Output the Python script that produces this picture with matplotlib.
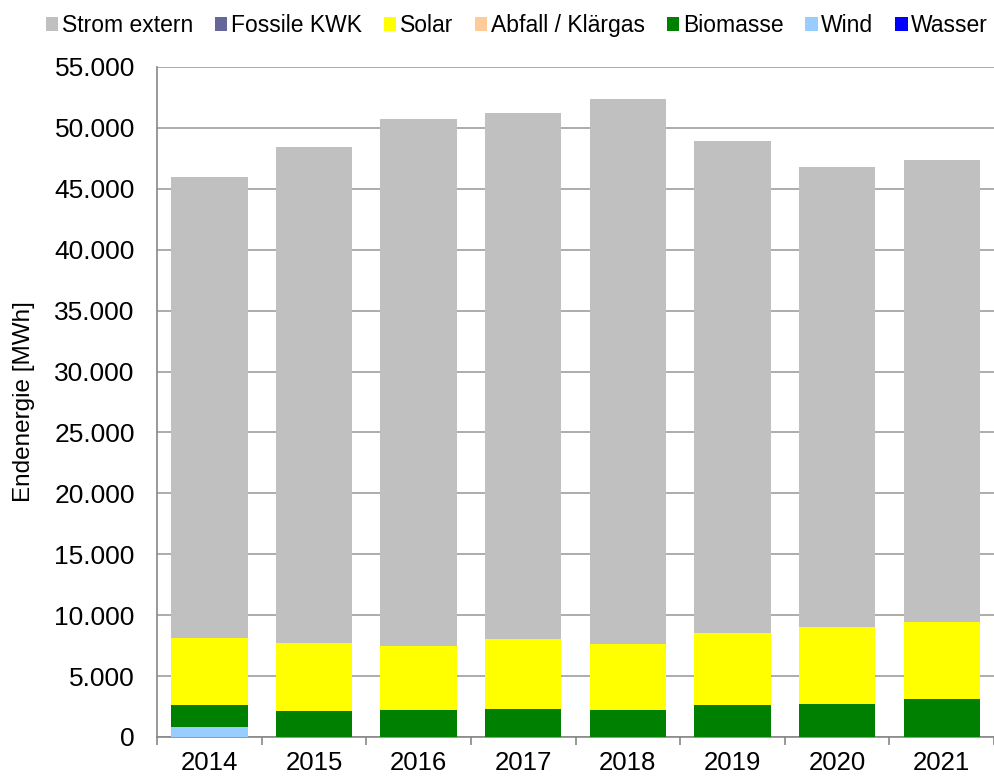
import matplotlib.pyplot as plt
from matplotlib.ticker import FuncFormatter, MultipleLocator
import numpy as np

plt.rcParams['font.family'] = ['Liberation Sans', 'DejaVu Sans']

# Endenergie Strom nach Herkunft, in MWh
years = ['2014', '2015', '2016', '2017', '2018', '2019', '2020', '2021']
wasser = [0, 0, 0, 0, 0, 0, 0, 0]
wind = [800, 0, 0, 0, 0, 0, 0, 0]
biomasse = [1850, 2160, 2200, 2290, 2180, 2590, 2730, 3090]
abfall = [0, 0, 0, 0, 0, 0, 0, 0]
solar = [5450, 5590, 5250, 5730, 5490, 5930, 6260, 6310]
fossile_kwk = [0, 0, 0, 0, 0, 0, 0, 50]
strom_extern = [37900, 40650, 43250, 43180, 44690, 40380, 37780, 37890]

# stacked from bottom to top
series = [
    ('Wasser', wasser, '#0000FF'),
    ('Wind', wind, '#99CCFF'),
    ('Biomasse', biomasse, '#008000'),
    ('Abfall / Klärgas', abfall, '#FFCC99'),
    ('Solar', solar, '#FFFF00'),
    ('Fossile KWK', fossile_kwk, '#666699'),
    ('Strom extern', strom_extern, '#C0C0C0'),
]

fig = plt.figure(figsize=(9.94, 7.79), dpi=100)
ax = fig.add_axes([0.158, 0.054, 0.842, 0.86])

x = np.arange(len(years))
bottom = np.zeros(len(years))
handles = {}
for name, vals, color in series:
    vals = np.array(vals, dtype=float)
    h = ax.bar(x, vals, width=0.73, bottom=bottom, color=color,
               edgecolor='none', zorder=3, label=name)
    handles[name] = h
    bottom += vals

ax.set_xlim(-0.5, len(years) - 0.5)
ax.set_ylim(0, 55000)
ax.yaxis.set_major_locator(MultipleLocator(5000))
ax.yaxis.set_major_formatter(FuncFormatter(lambda v, p: f'{int(v):,}'.replace(',', '.')))
ax.grid(axis='y', color='#A6A6A6', linewidth=1.3, zorder=0)

ax.set_xticks(x)
ax.set_xticklabels(years)
ax.set_xticks(np.arange(-0.5, len(years)), minor=True)
ax.tick_params(axis='x', which='major', length=0, labelsize=18.5, pad=10)
ax.tick_params(axis='x', which='minor', length=6, color='#878787', width=1.2)
ax.tick_params(axis='y', length=0, labelsize=19, pad=16)

for side in ['top', 'right']:
    ax.spines[side].set_visible(False)
for side in ['left', 'bottom']:
    ax.spines[side].set_color('#878787')
    ax.spines[side].set_linewidth(1.2)

ax.set_ylabel('Endenergie [MWh]', fontsize=17.5, labelpad=14)

order = ['Strom extern', 'Fossile KWK', 'Solar', 'Abfall / Klärgas',
         'Biomasse', 'Wind', 'Wasser']
fig.legend([handles[n] for n in order], order, loc='upper center',
           bbox_to_anchor=(0.52, 1.0), ncol=7, frameon=False, fontsize=16.5,
           handlelength=0.55, handleheight=0.55, handletextpad=0.15,
           columnspacing=0.95, borderaxespad=0.2)

fig.savefig('out.png', dpi=100)
